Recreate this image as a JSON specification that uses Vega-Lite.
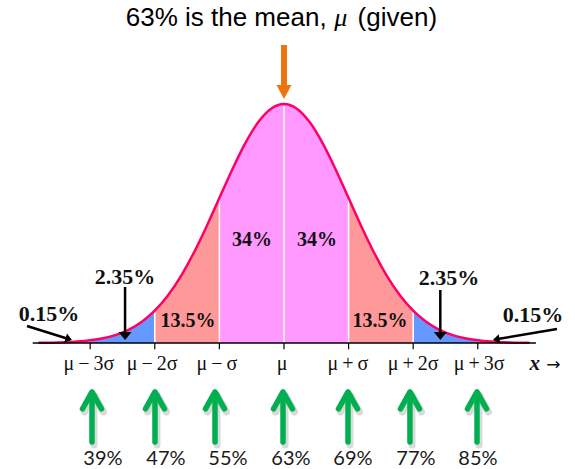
{
  "$schema": "https://vega.github.io/schema/vega-lite/v6.json",
  "width": 575,
  "height": 469,
  "autosize": {"type": "none"},
  "padding": 0,
  "background": "white",
  "config": {"view": {"stroke": null}},
  "datasets": {
    "curve": [
      {"z": -3.8, "d": 0.00029}, {"z": -3.6, "d": 0.00061}, {"z": -3.4, "d": 0.00123}, {"z": -3.3, "d": 0.00172},
      {"z": -3.2, "d": 0.00238}, {"z": -3.0, "d": 0.00443}, {"z": -2.8, "d": 0.00792}, {"z": -2.6, "d": 0.01358},
      {"z": -2.4, "d": 0.02239}, {"z": -2.2, "d": 0.03547}, {"z": -2.0, "d": 0.05399}, {"z": -1.8, "d": 0.07895},
      {"z": -1.6, "d": 0.11092}, {"z": -1.4, "d": 0.14973}, {"z": -1.2, "d": 0.19419}, {"z": -1.0, "d": 0.24197},
      {"z": -0.8, "d": 0.28969}, {"z": -0.6, "d": 0.33322}, {"z": -0.4, "d": 0.36827}, {"z": -0.2, "d": 0.39104},
      {"z": 0.0, "d": 0.39894}, {"z": 0.2, "d": 0.39104}, {"z": 0.4, "d": 0.36827}, {"z": 0.6, "d": 0.33322},
      {"z": 0.8, "d": 0.28969}, {"z": 1.0, "d": 0.24197}, {"z": 1.2, "d": 0.19419}, {"z": 1.4, "d": 0.14973},
      {"z": 1.6, "d": 0.11092}, {"z": 1.8, "d": 0.07895}, {"z": 2.0, "d": 0.05399}, {"z": 2.2, "d": 0.03547},
      {"z": 2.4, "d": 0.02239}, {"z": 2.6, "d": 0.01358}, {"z": 2.8, "d": 0.00792}, {"z": 3.0, "d": 0.00443},
      {"z": 3.2, "d": 0.00238}, {"z": 3.3, "d": 0.00172}, {"z": 3.4, "d": 0.00123}, {"z": 3.6, "d": 0.00061},
      {"z": 3.8, "d": 0.00029}
    ],
    "bands": [
      {"z": -3.3, "d": 0.00172, "region": "0.15%", "side": "L"},
      {"z": -3.2, "d": 0.00238, "region": "0.15%", "side": "L"},
      {"z": -3.0, "d": 0.00443, "region": "0.15%", "side": "L"},
      {"z": -3.0, "d": 0.00443, "region": "2.35%", "side": "L"},
      {"z": -2.8, "d": 0.00792, "region": "2.35%", "side": "L"},
      {"z": -2.6, "d": 0.01358, "region": "2.35%", "side": "L"},
      {"z": -2.4, "d": 0.02239, "region": "2.35%", "side": "L"},
      {"z": -2.2, "d": 0.03547, "region": "2.35%", "side": "L"},
      {"z": -2.0, "d": 0.05399, "region": "2.35%", "side": "L"},
      {"z": -2.0, "d": 0.05399, "region": "13.5%", "side": "L"},
      {"z": -1.8, "d": 0.07895, "region": "13.5%", "side": "L"},
      {"z": -1.6, "d": 0.11092, "region": "13.5%", "side": "L"},
      {"z": -1.4, "d": 0.14973, "region": "13.5%", "side": "L"},
      {"z": -1.2, "d": 0.19419, "region": "13.5%", "side": "L"},
      {"z": -1.0, "d": 0.24197, "region": "13.5%", "side": "L"},
      {"z": -1.0, "d": 0.24197, "region": "34%", "side": "L"},
      {"z": -0.8, "d": 0.28969, "region": "34%", "side": "L"},
      {"z": -0.6, "d": 0.33322, "region": "34%", "side": "L"},
      {"z": -0.4, "d": 0.36827, "region": "34%", "side": "L"},
      {"z": -0.2, "d": 0.39104, "region": "34%", "side": "L"},
      {"z": 0.0, "d": 0.39894, "region": "34%", "side": "L"},
      {"z": 0.0, "d": 0.39894, "region": "34%", "side": "R"},
      {"z": 0.2, "d": 0.39104, "region": "34%", "side": "R"},
      {"z": 0.4, "d": 0.36827, "region": "34%", "side": "R"},
      {"z": 0.6, "d": 0.33322, "region": "34%", "side": "R"},
      {"z": 0.8, "d": 0.28969, "region": "34%", "side": "R"},
      {"z": 1.0, "d": 0.24197, "region": "34%", "side": "R"},
      {"z": 1.0, "d": 0.24197, "region": "13.5%", "side": "R"},
      {"z": 1.2, "d": 0.19419, "region": "13.5%", "side": "R"},
      {"z": 1.4, "d": 0.14973, "region": "13.5%", "side": "R"},
      {"z": 1.6, "d": 0.11092, "region": "13.5%", "side": "R"},
      {"z": 1.8, "d": 0.07895, "region": "13.5%", "side": "R"},
      {"z": 2.0, "d": 0.05399, "region": "13.5%", "side": "R"},
      {"z": 2.0, "d": 0.05399, "region": "2.35%", "side": "R"},
      {"z": 2.2, "d": 0.03547, "region": "2.35%", "side": "R"},
      {"z": 2.4, "d": 0.02239, "region": "2.35%", "side": "R"},
      {"z": 2.6, "d": 0.01358, "region": "2.35%", "side": "R"},
      {"z": 2.8, "d": 0.00792, "region": "2.35%", "side": "R"},
      {"z": 3.0, "d": 0.00443, "region": "2.35%", "side": "R"},
      {"z": 3.0, "d": 0.00443, "region": "0.15%", "side": "R"},
      {"z": 3.2, "d": 0.00238, "region": "0.15%", "side": "R"},
      {"z": 3.3, "d": 0.00172, "region": "0.15%", "side": "R"}
    ],
    "divs": [
      {"z": -2, "d": 0.051, "d2": 0}, {"z": -1, "d": 0.238, "d2": 0}, {"z": 0, "d": 0.395, "d2": 0},
      {"z": 1, "d": 0.238, "d2": 0}, {"z": 2, "d": 0.051, "d2": 0}
    ],
    "axis": [{"z": -3.89, "z2": 3.9, "d": 0}],
    "ticks": [
      {"z": -3, "d": 0, "d2": -0.0105}, {"z": -2, "d": 0, "d2": -0.0105}, {"z": -1, "d": 0, "d2": -0.0105},
      {"z": 0, "d": 0, "d2": -0.0105}, {"z": 1, "d": 0, "d2": -0.0105}, {"z": 2, "d": 0, "d2": -0.0105},
      {"z": 3, "d": 0, "d2": -0.0105}
    ],
    "tickLabels": [
      {"z": -3.02, "d": -0.0455, "label": "\u03bc\u2009\u2212\u20093\u03c3"},
      {"z": -2.04, "d": -0.0455, "label": "\u03bc\u2009\u2212\u20092\u03c3"},
      {"z": -1.04, "d": -0.0455, "label": "\u03bc\u2009\u2212\u2009\u03c3"},
      {"z": -0.03, "d": -0.0455, "label": "\u03bc"},
      {"z": 0.99, "d": -0.0455, "label": "\u03bc\u2009+\u2009\u03c3"},
      {"z": 2.0, "d": -0.0455, "label": "\u03bc\u2009+\u20092\u03c3"},
      {"z": 3.02, "d": -0.0455, "label": "\u03bc\u2009+\u20093\u03c3"}
    ],
    "xlabel": [{"z": 3.88, "d": -0.0451, "label": "x"}],
    "xarrow": [{"z": 4.17, "d": -0.0451, "label": "\u2192"}],
    "innerLabels": [
      {"z": -0.495, "d": 0.1719, "label": "34%"},
      {"z": 0.511, "d": 0.1719, "label": "34%"},
      {"z": -1.486, "d": 0.0367, "label": "13.5%"},
      {"z": 1.486, "d": 0.0367, "label": "13.5%"}
    ],
    "outerLabels": [
      {"z": -2.461, "d": 0.1102, "label": "2.35%"},
      {"z": 2.554, "d": 0.1085, "label": "2.35%"},
      {"z": -3.638, "d": 0.0484, "label": "0.15%"},
      {"z": 3.854, "d": 0.0467, "label": "0.15%"}
    ],
    "shafts": [
      {"z": -2.46, "d": 0.0935, "z2": -2.46, "d2": 0.018},
      {"z": 2.42, "d": 0.0885, "z2": 2.42, "d2": 0.018},
      {"z": -3.978, "d": 0.0284, "z2": -3.31, "d2": 0.0058},
      {"z": 4.226, "d": 0.0234, "z2": 3.26, "d2": 0.0058}
    ],
    "headsDown": [{"z": -2.46, "d": 0.005}, {"z": 2.42, "d": 0.005}],
    "headLeft": [{"z": -3.282, "d": 0.005}],
    "headRight": [{"z": 3.235, "d": 0.005}],
    "titleA": [{"z": 0.66, "d": 0.5425, "label": "63% is the mean,"}],
    "titleMu": [{"z": 0.88, "d": 0.5425, "label": "\u03bc"}],
    "titleB": [{"z": 1.14, "d": 0.5425, "label": "(given)"}],
    "meanShaft": [{"z": 0, "d": 0.4974, "d2": 0.428}],
    "meanHead": [{"z": 0, "d": 0.4073}],
    "green": [
      {"z": -2.972, "d": -0.1653, "d2": -0.084}, {"z": -1.997, "d": -0.1653, "d2": -0.084},
      {"z": -1.068, "d": -0.1653, "d2": -0.084}, {"z": -0.015, "d": -0.1653, "d2": -0.084},
      {"z": 0.991, "d": -0.1653, "d2": -0.084}, {"z": 1.95, "d": -0.1653, "d2": -0.084},
      {"z": 2.988, "d": -0.1653, "d2": -0.084}
    ],
    "greenTips": [
      {"z": -2.972, "d": -0.0815}, {"z": -1.997, "d": -0.0815}, {"z": -1.068, "d": -0.0815},
      {"z": -0.015, "d": -0.0815}, {"z": 0.991, "d": -0.0815}, {"z": 1.95, "d": -0.0815},
      {"z": 2.988, "d": -0.0815}
    ],
    "greenLabels": [
      {"z": -2.802, "d": -0.2036, "value": "39%"}, {"z": -1.827, "d": -0.2036, "value": "47%"},
      {"z": -0.867, "d": -0.2036, "value": "55%"}, {"z": 0.108, "d": -0.2036, "value": "63%"},
      {"z": 1.068, "d": -0.2036, "value": "69%"}, {"z": 2.043, "d": -0.2036, "value": "77%"},
      {"z": 3.003, "d": -0.2036, "value": "85%"}
    ]
  },
  "encoding": {
    "x": {"field": "z", "type": "quantitative", "scale": {"domain": [-4.396, 4.505], "nice": false, "zero": false}, "axis": null},
    "y": {"field": "d", "type": "quantitative", "scale": {"domain": [-0.2103, 0.5725], "nice": false, "zero": false}, "axis": null}
  },
  "layer": [
    {
      "data": {"name": "bands"},
      "mark": {"type": "area", "interpolate": "monotone"},
      "encoding": {
        "y": {"field": "d", "type": "quantitative", "stack": null},
        "color": {"field": "region", "type": "nominal", "scale": {"domain": ["34%", "13.5%", "2.35%", "0.15%"], "range": ["#FF99FF", "#FF9999", "#6699FF", "#F5A262"]}, "legend": null},
        "detail": {"field": "side"}
      }
    },
    {
      "data": {"name": "divs"},
      "mark": {"type": "rule", "color": "white", "strokeWidth": 1.5},
      "encoding": {"y2": {"field": "d2"}}
    },
    {
      "data": {"name": "curve"},
      "mark": {"type": "line", "interpolate": "monotone", "color": "#FF0066", "strokeWidth": 2.5},
      "encoding": {}
    },
    {
      "data": {"name": "axis"},
      "mark": {"type": "rule", "color": "black", "strokeWidth": 1.5},
      "encoding": {"x2": {"field": "z2"}}
    },
    {
      "data": {"name": "ticks"},
      "mark": {"type": "rule", "color": "black", "strokeWidth": 1.2},
      "encoding": {"y2": {"field": "d2"}}
    },
    {
      "data": {"name": "tickLabels"},
      "mark": {"type": "text", "font": "Liberation Serif", "fontSize": 20, "baseline": "alphabetic", "align": "center", "color": "#111111"},
      "encoding": {"text": {"field": "label"}}
    },
    {
      "data": {"name": "xlabel"},
      "mark": {"type": "text", "font": "Liberation Serif", "fontSize": 21, "fontStyle": "italic", "fontWeight": "bold", "baseline": "alphabetic", "align": "center", "color": "#111111"},
      "encoding": {"text": {"field": "label"}}
    },
    {
      "data": {"name": "xarrow"},
      "mark": {"type": "text", "font": "DejaVu Sans", "fontSize": 17, "baseline": "alphabetic", "align": "center", "color": "#111111"},
      "encoding": {"text": {"field": "label"}}
    },
    {
      "data": {"name": "innerLabels"},
      "mark": {"type": "text", "font": "Liberation Serif", "fontSize": 20, "fontWeight": "bold", "baseline": "middle", "align": "center", "color": "#111111"},
      "encoding": {"text": {"field": "label"}}
    },
    {
      "data": {"name": "outerLabels"},
      "mark": {"type": "text", "font": "Liberation Serif", "fontSize": 22, "fontWeight": "bold", "baseline": "middle", "align": "center", "color": "#111111"},
      "encoding": {"text": {"field": "label"}}
    },
    {
      "data": {"name": "shafts"},
      "mark": {"type": "rule", "color": "black", "strokeWidth": 2.5},
      "encoding": {"x2": {"field": "z2"}, "y2": {"field": "d2"}}
    },
    {
      "data": {"name": "headsDown"},
      "mark": {"type": "point", "shape": "M0,0L-1,-1.25L1,-1.25Z", "size": 169, "filled": true, "color": "black", "opacity": 1},
      "encoding": {}
    },
    {
      "data": {"name": "headLeft"},
      "mark": {"type": "point", "shape": "M0,0L-1,-1.4L1,-1.4Z", "size": 90, "filled": true, "color": "black", "opacity": 1, "angle": 287},
      "encoding": {}
    },
    {
      "data": {"name": "headRight"},
      "mark": {"type": "point", "shape": "M0,0L-1,-1.4L1,-1.4Z", "size": 90, "filled": true, "color": "black", "opacity": 1, "angle": 80},
      "encoding": {}
    },
    {
      "data": {"name": "titleA"},
      "mark": {"type": "text", "font": "Liberation Sans", "fontSize": 26, "baseline": "middle", "align": "right", "color": "black"},
      "encoding": {"text": {"field": "label"}}
    },
    {
      "data": {"name": "titleMu"},
      "mark": {"type": "text", "font": "Liberation Serif", "fontSize": 26, "fontStyle": "italic", "baseline": "middle", "align": "center", "color": "black"},
      "encoding": {"text": {"field": "label"}}
    },
    {
      "data": {"name": "titleB"},
      "mark": {"type": "text", "font": "Liberation Sans", "fontSize": 26, "baseline": "middle", "align": "left", "color": "black"},
      "encoding": {"text": {"field": "label"}}
    },
    {
      "data": {"name": "meanShaft"},
      "mark": {"type": "rule", "color": "#EE7410", "strokeWidth": 6},
      "encoding": {"y2": {"field": "d2"}}
    },
    {
      "data": {"name": "meanHead"},
      "mark": {"type": "point", "shape": "M0,0L-1,-1.87L1,-1.87Z", "size": 225, "filled": true, "color": "#EE7410", "opacity": 1},
      "encoding": {}
    },
    {
      "data": {"name": "green"},
      "mark": {"type": "rule", "color": "#555555", "opacity": 0.22, "strokeWidth": 7, "strokeCap": "round", "xOffset": 2, "x2Offset": 2, "yOffset": 3, "y2Offset": 3},
      "encoding": {"y2": {"field": "d2"}}
    },
    {
      "data": {"name": "greenTips"},
      "mark": {"type": "point", "shape": "M-1,1.8L0,0L1,1.8", "size": 361, "filled": false, "color": "#555555", "opacity": 0.22, "strokeWidth": 7, "strokeCap": "round", "strokeJoin": "round", "xOffset": 2, "yOffset": 3},
      "encoding": {}
    },
    {
      "data": {"name": "green"},
      "mark": {"type": "rule", "color": "#00B050", "strokeWidth": 5.5, "strokeCap": "round"},
      "encoding": {"y2": {"field": "d2"}}
    },
    {
      "data": {"name": "greenTips"},
      "mark": {"type": "point", "shape": "M-1,1.8L0,0L1,1.8", "size": 361, "filled": false, "color": "#00B050", "strokeWidth": 5.5, "strokeCap": "round", "strokeJoin": "round", "opacity": 1},
      "encoding": {}
    },
    {
      "data": {"name": "greenLabels"},
      "mark": {"type": "text", "font": "Lato", "fontSize": 20, "baseline": "alphabetic", "align": "center", "color": "#1a1a1a"},
      "encoding": {"text": {"field": "value"}}
    }
  ]
}
